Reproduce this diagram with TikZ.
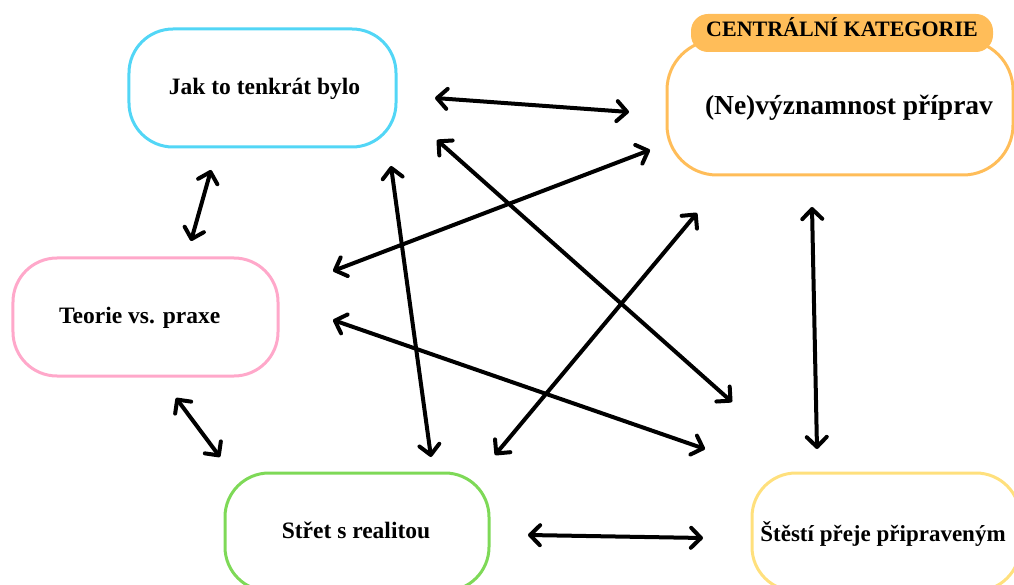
\documentclass[tikz,border=0pt]{standalone}
\usepackage{fontspec}
\setmainfont{Liberation Serif}
\usetikzlibrary{arrows.meta}
\definecolor{cyanb}{RGB}{82,214,246}
\definecolor{pinkb}{RGB}{255,168,202}
\definecolor{greenb}{RGB}{126,217,87}
\definecolor{orangeb}{RGB}{255,189,89}
\definecolor{yellowb}{RGB}{255,224,125}
\tikzset{
  box/.style={draw, line width=3bp, rounded corners=44bp, inner sep=0pt},
  lbl/.style={anchor=base, inner sep=0pt, font=\bfseries},
  link/.style={line width=4bp, line cap=round,
    {Straight Barb[length=10bp,width=20bp,round]}-{Straight Barb[length=10bp,width=20bp,round]}}
}
\begin{document}
\begin{tikzpicture}[x=1bp,y=-1bp]
\useasboundingbox (0,0) rectangle (1014,585);
\clip (0,0) rectangle (1014,585);
% boxes
\node[box, draw=cyanb, minimum width=267bp, minimum height=118bp] (jak) at (262.5,88) {};
\node[box, draw=pinkb, minimum width=265bp, minimum height=118bp] (teorie) at (145.5,317) {};
\node[box, draw=greenb, minimum width=264bp, minimum height=118bp] (stret) at (357,532) {};
\node[box, draw=orangeb, minimum width=346bp, minimum height=135bp, rounded corners=50bp] (ne) at (840,107.5) {};
\node[box, draw=yellowb, minimum width=268bp, minimum height=118bp] (stesti) at (886,532) {};
\node[fill=orangeb, rounded corners=17bp, minimum width=302bp, minimum height=38bp, inner sep=0pt] (tab) at (842,33) {};
% texts
\node[lbl, font=\fontsize{23.5bp}{28bp}\selectfont\bfseries] (jakt) at (264.5,95) {Jak to tenkrát bylo};
\node[lbl, font=\fontsize{23.5bp}{28bp}\selectfont\bfseries] (teoriet) at (139.7,323) {Teorie vs. praxe};
\node[lbl, font=\fontsize{23.5bp}{28bp}\selectfont\bfseries] (strett) at (356,538) {Střet s realitou};
\node[lbl, font=\fontsize{23bp}{28bp}\selectfont\bfseries] (stestit) at (883,541.5) {Štěstí přeje připraveným};
\node[lbl, font=\fontsize{27.5bp}{32bp}\selectfont\bfseries] (net) at (849,115) {(Ne)významnost příprav};
\node[lbl, font=\fontsize{22bp}{26bp}\selectfont\bfseries] (tabt) at (842,36.5) {CENTRÁLNÍ KATEGORIE};
% arrow end points
\coordinate (a1s) at (435,98);   \coordinate (a1e) at (629,112);
\coordinate (a2s) at (437,140);  \coordinate (a2e) at (732,402);
\coordinate (a3s) at (650,150);  \coordinate (a3e) at (333,271);
\coordinate (a4s) at (697,213);  \coordinate (a4e) at (495,455);
\coordinate (a5s) at (333,320);  \coordinate (a5e) at (705,449);
\coordinate (a6s) at (391,166);  \coordinate (a6e) at (431,457);
\coordinate (a7s) at (211,170);  \coordinate (a7e) at (191,241);
\coordinate (a8s) at (176,398);  \coordinate (a8e) at (220,457);
\coordinate (a9s) at (528,535);  \coordinate (a9e) at (703,538);
\coordinate (a10s) at (812,207); \coordinate (a10e) at (817,449);
\foreach \i in {1,...,10} {\draw[link] (a\i s) -- (a\i e);}
\end{tikzpicture}
\end{document}
